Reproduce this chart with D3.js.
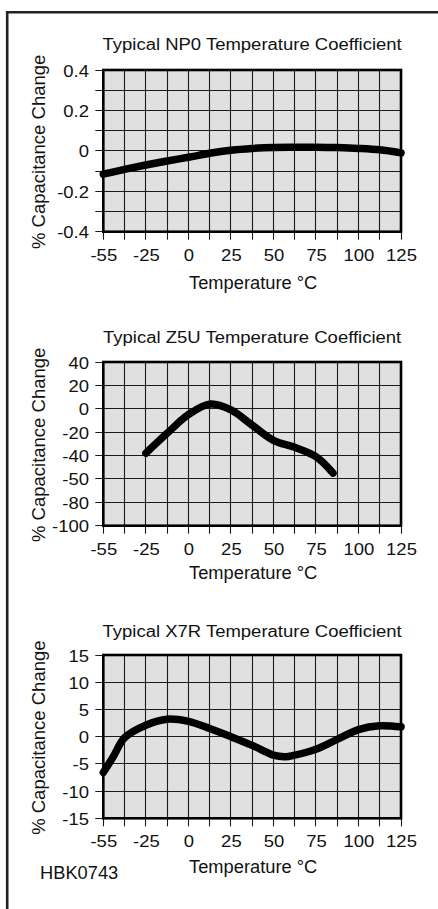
<!DOCTYPE html>
<html><head><meta charset="utf-8">
<script src="https://cdn.jsdelivr.net/npm/d3@7"></script>
<style>
html,body{margin:0;padding:0;background:#fff;}
svg{display:block;}
text{font-family:"Liberation Sans",Arial,Helvetica,sans-serif;fill:#111;}
</style></head>
<body>
<script>
// ---------- data ----------
const xTicks = [-55, -25, 0, 25, 50, 75, 100, 125];
const xTickLabels = ["-55", "-25", "0", "25", "50", "75", "100", "125"];

const np0Title = "Typical NP0 Temperature Coefficient";
const np0YTicks = [0.4, 0.3, 0.2, 0.1, 0, -0.1, -0.2, -0.3, -0.4];
const np0YLabels = ["0.4", "", "0.2", "", "0", "", "-0.2", "", "-0.4"];
const np0Temp = [-55, -40, -25, -12.5, 0, 12.5, 25, 37.5, 50, 62.5, 75, 87.5, 100, 112.5, 125];
const np0Val  = [-0.115, -0.092, -0.07, -0.05, -0.032, -0.012, 0.003, 0.012, 0.017, 0.018, 0.018, 0.016, 0.012, 0.005, -0.01];

const z5uTitle = "Typical Z5U Temperature Coefficient";
const z5uYTicks = [40, 20, 0, -20, -40, -50, -80, -100];
const z5uYLabels = ["40", "20", "0", "-20", "-40", "-50", "-80", "-100"];
const z5uTemp = [-25, -12.5, 0, 13, 25, 37.5, 50, 62.5, 75, 85];
const z5uVal  = [-38, -21, -5, 4, -1, -14, -27, -33, -40.5, -47.5];

const x7rTitle = "Typical X7R Temperature Coefficient";
const x7rYTicks = [15, 10, 5, 0, -5, -10, -15];
const x7rYLabels = ["15", "10", "5", "0", "-5", "-10", "-15"];
const x7rTemp = [-55, -48, -40, -25, -12.5, 0, 12.5, 25, 37.5, 50, 57, 62.5, 75, 87.5, 100, 112.5, 125];
const x7rVal  = [-6.6, -3.7, -0.2, 2.1, 3.2, 2.8, 1.5, 0, -1.6, -3.4, -3.7, -3.4, -2.3, -0.5, 1.3, 2.0, 1.8];

const yAxisTitle = "% Capacitance Change";
const xAxisTitle = "Temperature °C";
const figCode = "HBK0743";

// ---------- layout ----------
const W = 438, H = 909;
const px0 = 103.3, px1 = 401;
const charts = [
  {title: np0Title, yTicks: np0YTicks, yLabels: np0YLabels, temp: np0Temp, val: np0Val, top: 70, bottom: 231.7, titleOff: 20, xtOff: 57.6, linear: true},
  {title: z5uTitle, yTicks: z5uYTicks, yLabels: z5uYLabels, temp: z5uTemp, val: z5uVal, top: 362, bottom: 525.7, titleOff: 19.3, xtOff: 53.6, linear: false},
  {title: x7rTitle, yTicks: x7rYTicks, yLabels: x7rYLabels, temp: x7rTemp, val: x7rVal, top: 655, bottom: 818.3, titleOff: 17.7, xtOff: 55, linear: true}
];

const svg = d3.select("body").append("svg").attr("width", W).attr("height", H);

// frame
svg.append("line").attr("x1", 7.2).attr("x2", 7.2).attr("y1", 11).attr("y2", H)
  .attr("stroke", "#222").attr("stroke-width", 2.6);
svg.append("line").attr("x1", 6).attr("x2", W).attr("y1", 12.2).attr("y2", 12.2)
  .attr("stroke", "#222").attr("stroke-width", 2.4);

const SY = 0.9; // vertical squeeze of title / tick text
const pix = v => Math.round(v - 0.5) + 0.5;
const x = d3.scaleLinear().domain(xTicks)
  .range(xTicks.map((d, i) => px0 + i * (px1 - px0) / (xTicks.length - 1)));
const xGrid = [];
xTicks.forEach((d, i) => { xGrid.push(d); if (i < xTicks.length - 1) xGrid.push((d + xTicks[i + 1]) / 2); });

charts.forEach(c => {
  const g = svg.append("g");
  let y;
  if (c.linear) {
    y = d3.scaleLinear().domain([c.yTicks[c.yTicks.length - 1], c.yTicks[0]]).range([c.bottom, c.top]);
  } else {
    const n = c.yTicks.length - 1;
    y = d3.scaleLinear().domain(c.yTicks).range(c.yTicks.map((d, i) => c.top + i * (c.bottom - c.top) / n));
  }

  // plot background
  g.append("rect").attr("x", px0).attr("y", c.top).attr("width", px1 - px0).attr("height", c.bottom - c.top)
    .attr("fill", "#e0e0e0");

  // grid
  g.append("g").selectAll("line").data(xGrid).join("line")
    .attr("x1", d => pix(x(d))).attr("x2", d => pix(x(d))).attr("y1", c.top).attr("y2", c.bottom + 8)
    .attr("stroke", "#1a1a1a").attr("stroke-width", 1.1);
  g.append("g").selectAll("line").data(c.yTicks).join("line")
    .attr("x1", px0 - 8).attr("x2", px1).attr("y1", d => pix(y(d))).attr("y2", d => pix(y(d)))
    .attr("stroke", "#1a1a1a").attr("stroke-width", 1.1);

  // axes (labels)
  const lab = {};
  c.yTicks.forEach((d, i) => lab[d] = c.yLabels[i]);
  const ya = g.append("g").attr("transform", `translate(${px0},0)`)
    .call(d3.axisLeft(y).tickValues(c.yTicks).tickSize(0).tickPadding(6).tickFormat(d => lab[d]));
  ya.select(".domain").remove();
  ya.selectAll("line").remove();
  ya.selectAll("text").attr("font-size", 18.5).attr("fill", "#111").attr("font-family", null)
    .attr("x", -14.3).attr("dy", "0.36em").attr("transform", `scale(1,${SY})`);

  const xa = g.append("g").attr("transform", `translate(0,${c.bottom})`)
    .call(d3.axisBottom(x).tickValues(xGrid).tickSize(0).tickFormat(d => {
      const i = xTicks.indexOf(d); return i >= 0 ? xTickLabels[i] : "";
    }));
  xa.select(".domain").remove();
  xa.selectAll("line").remove();
  xa.selectAll("text").attr("font-size", 18.5).attr("fill", "#111").attr("font-family", null)
    .attr("y", 0).attr("dy", 0).attr("transform", `translate(0,29) scale(1,${SY})`);

  // border
  g.append("rect").attr("x", px0).attr("y", c.top).attr("width", px1 - px0).attr("height", c.bottom - c.top)
    .attr("fill", "none").attr("stroke", "#000").attr("stroke-width", 2.6);

  // curve
  const pts = c.temp.map((t, i) => [t, c.val[i]]);
  const line = d3.line().x(d => x(d[0])).y(d => y(d[1])).curve(d3.curveCatmullRom.alpha(0.5));
  g.append("path").attr("d", line(pts)).attr("fill", "none").attr("stroke", "#000")
    .attr("stroke-width", 7.5).attr("stroke-linecap", "round").attr("stroke-linejoin", "round");

  // title
  g.append("text").attr("text-anchor", "middle").attr("font-size", 18.5)
    .attr("transform", `translate(${(px0 + px1) / 2},${c.top - c.titleOff}) scale(1,${SY})`)
    .text(c.title);
  // x title
  g.append("text").attr("text-anchor", "middle").attr("font-size", 18.3)
    .attr("x", (px0 + px1) / 2 + 1).attr("y", c.bottom + c.xtOff).text(xAxisTitle);
  // y title
  g.append("text").attr("text-anchor", "middle").attr("font-size", 18.5)
    .attr("transform", `translate(44.8,${(c.top + c.bottom) / 2 + 1}) rotate(-90)`).text(yAxisTitle);
});

svg.append("text").attr("x", 40).attr("y", 879.3).attr("font-size", 18.3).text(figCode);
</script>
</body></html>
